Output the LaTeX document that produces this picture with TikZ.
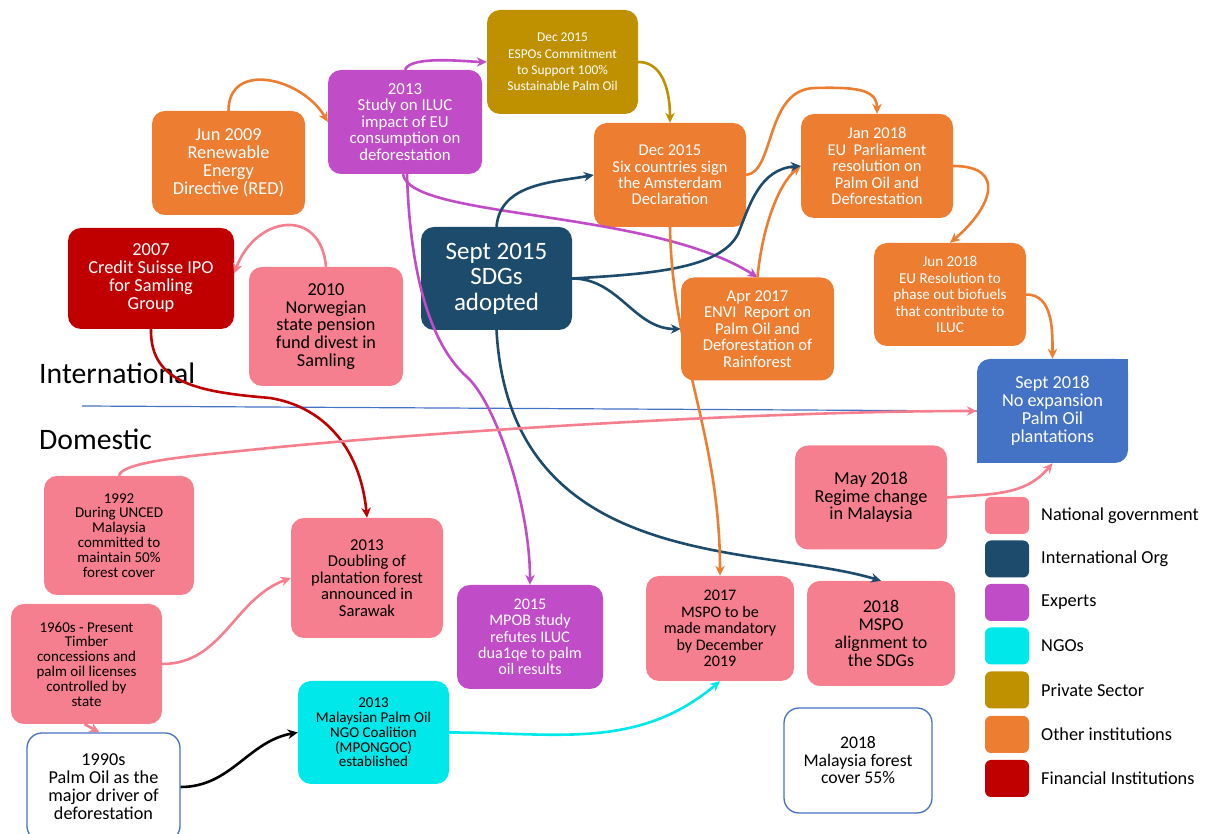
\documentclass[tikz,border=0pt]{standalone}
\usepackage{fontspec}
\setmainfont{Carlito}
\usetikzlibrary{arrows.meta}
\definecolor{orangeC}{HTML}{ED7D31}
\definecolor{purpC}{HTML}{C04CC8}
\definecolor{goldC}{HTML}{BF9000}
\definecolor{navyC}{HTML}{1D4B6C}
\definecolor{redC}{HTML}{C00000}
\definecolor{pinkC}{HTML}{F57F8E}
\definecolor{cyanC}{HTML}{00E8EA}
\definecolor{blueC}{HTML}{4472C4}
\newcommand\fsz[2]{\fontsize{#1}{#2}\selectfont\lineskiplimit=-30pt\lineskip=0pt\relax}
\begin{document}
\begin{tikzpicture}[x=1pt,y=1pt,
  box/.style={rounded corners=13pt, align=center, inner sep=0pt},
  wbox/.style={box, draw=blueC, line width=1.3pt, fill=white, rounded corners=15pt},
  conn/.style={line width=2.6pt, -{Stealth[length=10pt,width=9.5pt]}},
  lg/.style={fill=#1, rounded corners=6pt, minimum width=44, minimum height=37, inner sep=0pt},
  lgt/.style={anchor=west, inner sep=0pt, font=\fsz{18.3}{20}}]
\useasboundingbox (0,0) rectangle (1210,834);

% ---- nodes ----
\node[box, fill=orangeC, text=white, minimum width=153, minimum height=104, font=\fsz{18.3}{18}] (red) at (228.5,671) {Jun 2009\\Renewable\\Energy\\Directive (RED)};
\node[box, fill=purpC, text=white, minimum width=154, minimum height=104, font=\fsz{16.8}{16.5}] (iluc) at (405,712) {2013\\Study on ILUC\\impact of EU\\consumption on\\deforestation};
\node[box, fill=goldC, text=white, minimum width=151, minimum height=104, font=\fsz{13.4}{16.3}] (espo) at (562.5,772) {Dec 2015\\ESPOs Commitment\\to Support 100\%\\Sustainable Palm Oil};
\node[box, fill=orangeC, text=white, minimum width=152, minimum height=104, font=\fsz{16.5}{16.3}] (ams) at (670,659) {Dec 2015\\Six countries sign\\the Amsterdam\\Declaration};
\node[box, fill=orangeC, text=white, minimum width=152, minimum height=104, font=\fsz{16.5}{16.5}] (jan18) at (877,668) {Jan 2018\\EU\ \ Parliament\\resolution on\\Palm Oil and\\Deforestation};
\node[box, fill=orangeC, text=white, minimum width=152, minimum height=103, font=\fsz{15.1}{16.5}] (jun18) at (950,539.5) {Jun 2018\\EU Resolution to\\phase out biofuels\\that contribute to\\ILUC};
\node[box, fill=orangeC, text=white, minimum width=153, minimum height=103, font=\fsz{16.6}{16.5}] (envi) at (757.5,505) {Apr 2017\\ENVI\ \ Report on\\Palm Oil and\\Deforestation of\\Rainforest};
\node[box, fill=navyC, text=white, minimum width=151, minimum height=103, font=\fsz{25}{25.5}] (sdg) at (496.5,555.5) {Sept 2015\\SDGs\\adopted};
\node[box, fill=redC, text=white, minimum width=166, minimum height=101, font=\fsz{18.3}{18}] (cs) at (151,555.5) {2007\\Credit Suisse IPO\\for Samling\\Group};
\node[box, fill=pinkC, text=black, minimum width=154, minimum height=119, font=\fsz{18.2}{17.7}] (nor) at (326,507.5) {2010\\Norwegian\\state pension\\fund divest in\\Samling};
\fill[blueC] (1052.5,423) ++(75.5,52) rectangle ++(-20,-20);
\fill[blueC] (1052.5,423) ++(-75.5,-52) rectangle ++(20,20);
\node[box, fill=blueC, text=white, minimum width=151, minimum height=104, font=\fsz{18.3}{18}] (sep18) at (1052.5,423) {Sept 2018\\No expansion\\Palm Oil\\plantations};
\node[box, fill=pinkC, text=black, minimum width=152, minimum height=104, font=\fsz{18.3}{17.5}] (may18) at (871,336.5) {May 2018\\Regime change\\in Malaysia};
\node[box, fill=pinkC, text=black, minimum width=150, minimum height=119, font=\fsz{15}{14.9}] (unced) at (119,298.5) {1992\\During UNCED\\Malaysia\\committed to\\maintain 50\%\\forest cover};
\node[box, fill=pinkC, text=black, minimum width=152, minimum height=120, font=\fsz{16.6}{16.4}] (dbl) at (367,256) {2013\\Doubling of\\plantation forest\\announced in\\Sarawak};
\node[box, fill=pinkC, text=black, minimum width=151, minimum height=120, font=\fsz{15}{14.8}] (t1960) at (86.5,170) {1960s - Present\\Timber\\concessions and\\palm oil licenses\\controlled by\\state};
\node[wbox, text=black, minimum width=153, minimum height=108, font=\fsz{18.2}{18}] (p1990) at (103.5,47) {1990s\\Palm Oil as the\\major driver of\\deforestation};
\node[box, fill=cyanC, text=black, minimum width=151, minimum height=103, font=\fsz{15}{14.8}] (ngo) at (373.5,101.5) {2013\\Malaysian Palm Oil\\NGO Coalition\\(MPONGOC)\\established};
\node[box, fill=purpC, text=white, minimum width=146, minimum height=104, font=\fsz{16.2}{16.3}] (mpob) at (530,197) {2015\\MPOB study\\refutes ILUC\\dua1qe to palm\\oil results};
\node[box, fill=pinkC, text=black, minimum width=148, minimum height=105, font=\fsz{16.1}{16.5}] (mspo17) at (720,205.5) {2017\\MSPO to be\\made mandatory\\by December\\2019};
\node[box, fill=pinkC, text=black, minimum width=148, minimum height=105, font=\fsz{18}{18}] (mspo18) at (881,200.5) {2018\\MSPO\\alignment to\\the SDGs};
\node[wbox, text=black, minimum width=148, minimum height=105, font=\fsz{17.7}{17.5}] (forest) at (858,73.5) {2018\\Malaysia forest\\cover 55\%};

% ---- side labels and divider ----
\node[anchor=base west, inner sep=0pt, font=\fsz{29.7}{30}] (intl) at (39,450) {International};
\node[anchor=base west, inner sep=0pt, font=\fsz{29.7}{30}] (dom) at (39,384) {Domestic};
\coordinate (dl) at (82,428);
\draw[blueC, line width=1.2pt] (dl) -- (sep18.west);

% ---- legend ----
\node[lg=pinkC] (lg1) at (1007,318.5) {};
\node[lgt] (lt1) at (1041,318.5) {National government};
\node[lg=navyC] (lg2) at (1007,275) {};
\node[lgt] (lt2) at (1041,275) {International Org};
\node[lg=purpC] (lg3) at (1007,231.5) {};
\node[lgt] (lt3) at (1041,231.5) {Experts};
\node[lg=cyanC] (lg4) at (1007,188) {};
\node[lgt] (lt4) at (1041,188) {NGOs};
\node[lg=goldC] (lg5) at (1007,144) {};
\node[lgt] (lt5) at (1041,144) {Private Sector};
\node[lg=orangeC] (lg6) at (1007,99.5) {};
\node[lgt] (lt6) at (1041,99.5) {Other institutions};
\node[lg=redC] (lg7) at (1007,55.5) {};
\node[lgt] (lt7) at (1041,55.5) {Financial Institutions};

% ---- connectors ----
\draw[conn, orangeC] (red.north) to[out=90,in=120,looseness=1.3] (iluc.west);
\draw[conn, purpC] (iluc.north) to[out=70,in=180,looseness=0.5] (espo.west);
\draw[conn, goldC] (espo.east) to[out=0,in=90] (ams.north);
\draw[conn, purpC] ([xshift=-2]iluc.south) .. controls (410,615) and (650,625) .. (envi.north);
\draw[conn, purpC] ([xshift=2]iluc.south) .. controls (410,560) and (430,490) .. (467,457) .. controls (495,432) and (530,330) .. (mpob.north);
\draw[conn, orangeC] (ams.east) .. controls (775,662) and (765,745) .. (815,746) .. controls (855,747) and (877,745) .. (jan18.north);
\draw[conn, orangeC] (envi.north) .. controls (762,605) and (778,650) .. (jan18.west);
\draw[conn, navyC] (sdg.east) .. controls (650,560) and (720,565) .. (738,600) .. controls (750,630) and (760,665) .. (jan18.west);
\draw[conn, navyC] (sdg.east) to[out=0,in=180] (envi.west);
\draw[conn, navyC] (sdg.north) to[out=85,in=190] (ams.west);
\draw[conn, navyC] (sdg.south) .. controls (510,260) and (760,290) .. (mspo18.north);
\draw[conn, orangeC] (ams.south) .. controls (672,480) and (720,400) .. (mspo17.north);
\draw[conn, orangeC] (jan18.east) to[out=0,in=40,looseness=1.8] (jun18.north);
\draw[conn, orangeC] (jun18.east) to[out=0,in=90] (sep18.north);
\draw[conn, redC] (cs.south) .. controls (150,450) and (200,442) .. (270,436) .. controls (320,428) and (360,390) .. (dbl.north);
\draw[conn, pinkC] (nor.north) to[out=95,in=70,looseness=1.7] ([yshift=5]cs.east);
\draw[conn, pinkC] (unced.north) .. controls (121,372) and (190,378) .. (250,384) .. controls (400,400) and (750,423) .. (sep18.west);
\draw[conn, pinkC] (may18.east) to[out=5,in=-130] (sep18.south);
\draw[conn, pinkC] (t1960.east) to[out=0,in=200] (dbl.west);
\draw[conn, pinkC] ([xshift=-2]t1960.south) -- ([xshift=-4]p1990.north);
\draw[conn, black] (p1990.east) to[out=0,in=190] (ngo.west);
\draw[conn, cyanC] (ngo.east) to[out=0,in=220] (mspo17.south);
\end{tikzpicture}
\end{document}
